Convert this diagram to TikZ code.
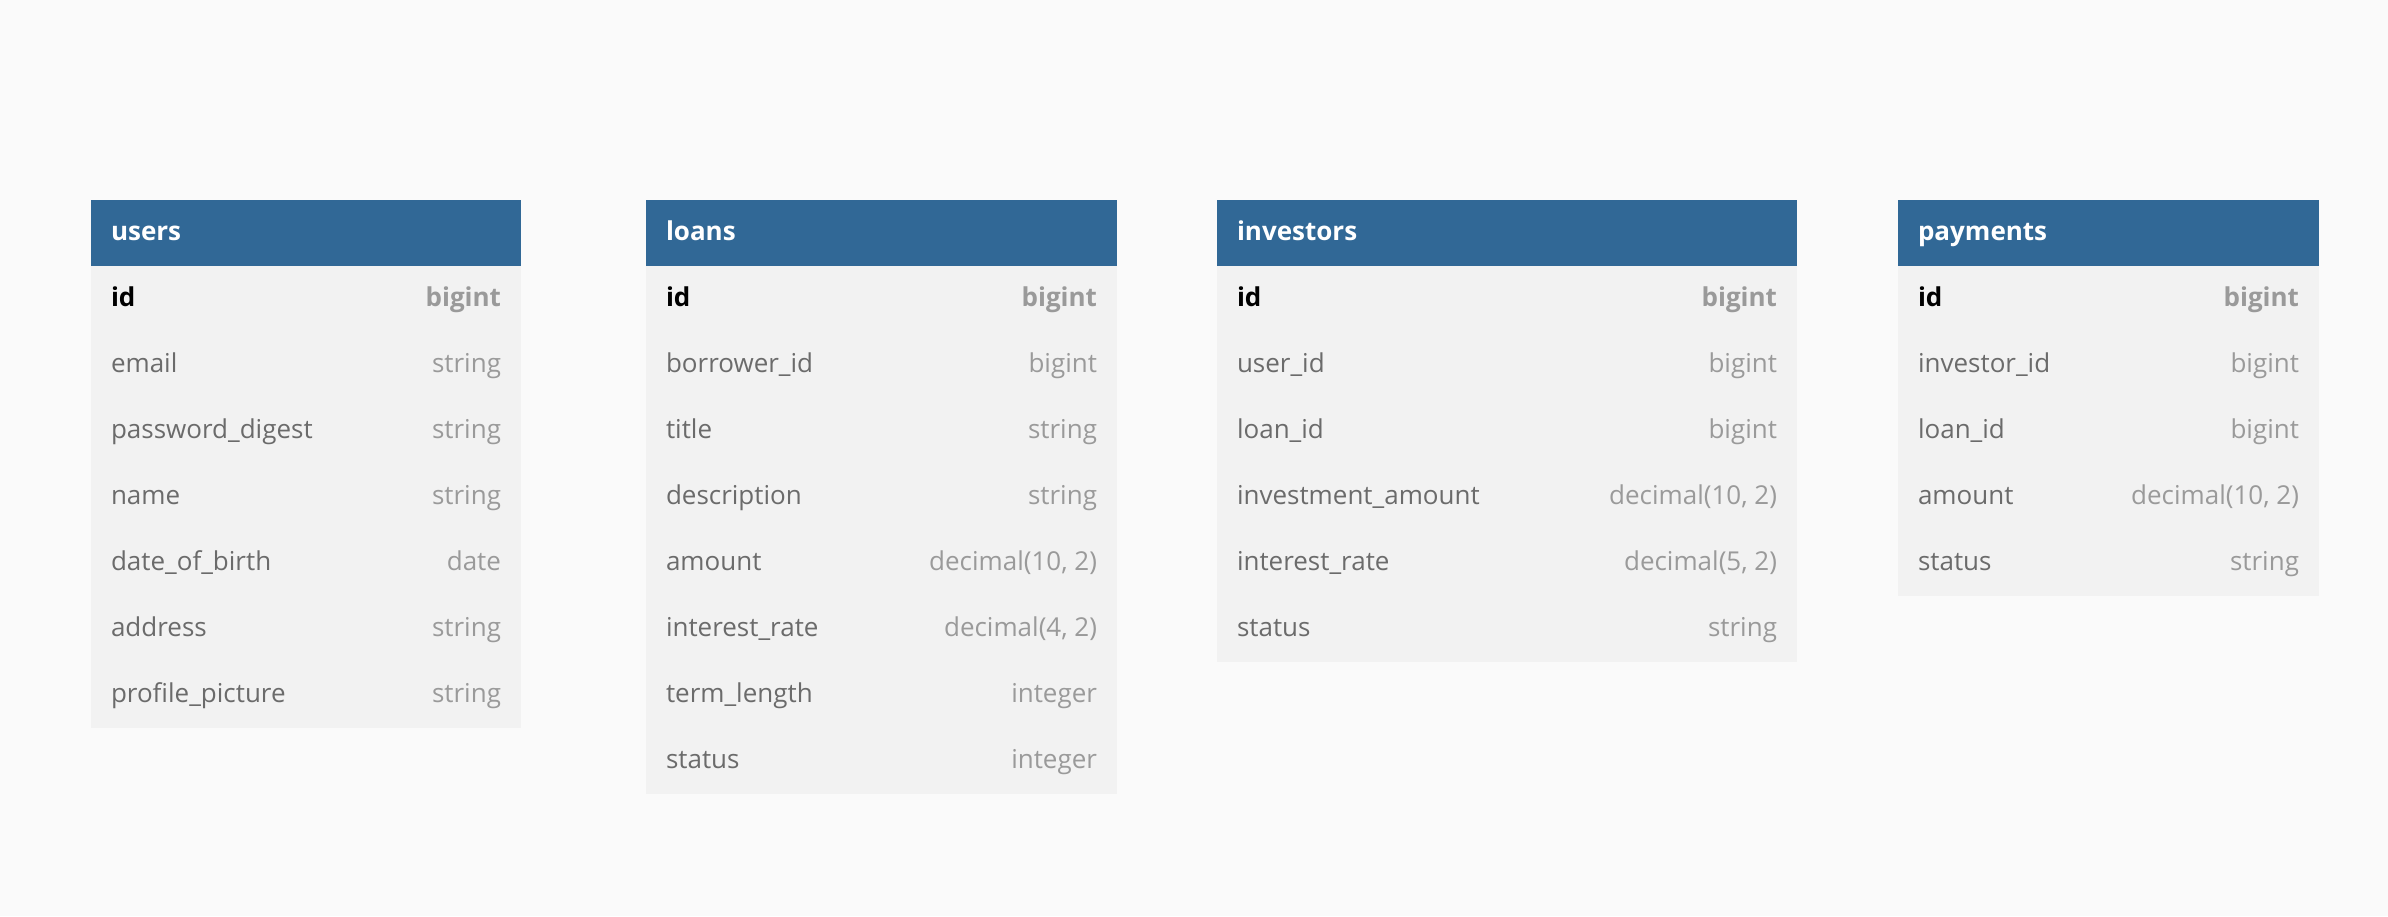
\documentclass[tikz,border=0pt]{standalone}
\usepackage{fontspec}
\setmainfont{Open Sans}
\definecolor{bgcol}{HTML}{FAFAFA}
\definecolor{hdrblue}{HTML}{316896}
\definecolor{rowgray}{HTML}{F2F2F2}
\definecolor{namegray}{HTML}{6B6B6B}
\definecolor{typegray}{HTML}{9A9A9A}
\tikzset{
  hdrbox/.style={fill=hdrblue, draw=none, anchor=north west, minimum height=66pt, inner sep=0pt, outer sep=0pt},
  bodybox/.style={fill=rowgray, draw=none, anchor=north west, inner sep=0pt, outer sep=0pt},
  basefont/.style={font=\fontsize{26}{31}\selectfont, inner sep=0pt, outer sep=0pt},
  hdrtext/.style={basefont, font=\bfseries\fontsize{26}{31}\selectfont, text=white, anchor=base west},
  pkname/.style={basefont, font=\bfseries\fontsize{26}{31}\selectfont, text=black, anchor=base west},
  pktype/.style={basefont, font=\bfseries\fontsize{26}{31}\selectfont, text=typegray, anchor=base east},
  colname/.style={basefont, text=namegray, anchor=base west},
  coltype/.style={basefont, text=typegray, anchor=base east},
}
% #1 id, #2 left x, #3 width, #4 title, #5 number of rows, #6 non-pk rows
\newcommand{\ertable}[6]{%
  \node[hdrbox, minimum width=#3pt] (#1) at (#2,200) {};
  \node[bodybox, minimum width=#3pt, minimum height={66*#5*1pt}] (#1-body) at (#2,266) {};
  \node[hdrtext] (#1-title) at ({#2+20},240) {#4};
  \node[pkname] (#1-name1) at ({#2+20},306) {id};
  \node[pktype] (#1-type1) at ({#2+#3-20},306) {bigint};
  \foreach \n/\t [count=\i from 2] in {#6} {
    \pgfmathsetmacro\yy{240+66*\i}
    \node[colname] (#1-name\i) at ({#2+20},\yy) {\n};
    \node[coltype] (#1-type\i) at ({#2+#3-20},\yy) {\t};
  }
}
\begin{document}
\begin{tikzpicture}[x=1pt,y=-1pt]
\fill[bgcol] (0,0) rectangle (2388,916);
\useasboundingbox (0,0) rectangle (2388,916);
\ertable{users}{91}{430}{users}{7}{email/string, password\_digest/string, name/string, date\_of\_birth/date, address/string, profile\_picture/string}
\ertable{loans}{646}{471}{loans}{8}{borrower\_id/bigint, title/string, description/string, amount/{decimal(10, 2)}, interest\_rate/{decimal(4, 2)}, term\_length/integer, status/integer}
\ertable{investors}{1217}{580}{investors}{6}{user\_id/bigint, loan\_id/bigint, investment\_amount/{decimal(10, 2)}, interest\_rate/{decimal(5, 2)}, status/string}
\ertable{payments}{1898}{421}{payments}{5}{investor\_id/bigint, loan\_id/bigint, amount/{decimal(10, 2)}, status/string}
\end{tikzpicture}
\end{document}
